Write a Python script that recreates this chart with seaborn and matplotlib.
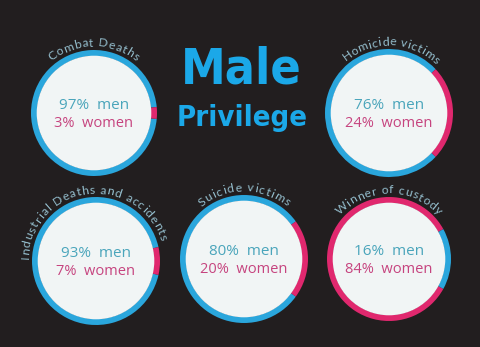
import numpy as np
import matplotlib
matplotlib.use("Agg")
import matplotlib.pyplot as plt
import seaborn as sns
from matplotlib.patches import Circle
from matplotlib.font_manager import FontProperties
from matplotlib.textpath import text_to_path

# ---- data ----
categories = ["Combat Deaths", "Homicide victims", "Industrial Deaths and accidents",
              "Suicide victims", "Winner of custody"]
men = [97, 76, 93, 80, 16]
women = [3, 24, 7, 20, 84]
title_lines = ["Male", "Privilege"]

sns.set_theme(style="dark")
plt.rcParams["font.family"] = ["Lato", "DejaVu Sans"]

BG = "#221e1f"
BLUE = "#2aa6dc"
PINK = "#e0286e"
FILL = "#f1f5f5"
MEN_TXT = "#4aa5bb"
WOMEN_TXT = "#c6447f"
LABEL_TXT = "#93bccb"
TITLE = "#1ba8e8"

palette = sns.color_palette([BLUE, PINK])

W, H = 480, 347
fig = plt.figure(figsize=(4.8, 3.47), dpi=100, facecolor=BG)
ax = fig.add_axes([0, 0, 1, 1])
ax.set_facecolor(BG)

# layout (image pixel coords, y downwards)
centers = [(94, 113), (389, 113), (96, 261), (244, 259), (389, 259)]
radii = [63, 64, 64, 64, 62]
label_center = [0, 2, -8, 0, 0]
label_span = [79, 84, 162, 79, 97]
RING = 6

label_prop = FontProperties(family=["Lato", "DejaVu Sans"], size=8.8)
inner_fam = ["Open Sans", "Lato", "DejaVu Sans"]


def char_w(c, prop):
    if c == " ":
        return prop.get_size_in_points() * 0.35
    w, h, d = text_to_path.get_text_width_height_descent(c, prop, ismath=False)
    return w + prop.get_size_in_points() * 0.12


def arc_text(s, cx, cy, rad, cdeg, span):
    widths = [char_w(c, label_prop) for c in s]
    total = sum(widths)
    start = cdeg - span / 2.0
    acc = 0.0
    for c, w in zip(s, widths):
        mid = start + span * (acc + w / 2.0) / total
        acc += w
        if c == " ":
            continue
        th = np.radians(mid)
        x = cx + rad * np.sin(th)
        y = cy + rad * np.cos(th)
        ax.text(x, y, c, rotation=-mid, rotation_mode="anchor", ha="center",
                va="baseline", color=LABEL_TXT, fontproperties=label_prop)


for i, cat in enumerate(categories):
    cx, cyi = centers[i]
    cy = H - cyi
    r = radii[i]
    m, w = men[i], women[i]
    if w <= m:
        vals, cols, minor = [m, w], [palette[0], palette[1]], w
    else:
        vals, cols, minor = [w, m], [palette[1], palette[0]], m
    ax.pie(vals, colors=cols, startangle=minor * 1.8, counterclock=True,
           center=(cx, cy), radius=r,
           wedgeprops=dict(width=RING, linewidth=0))
    ax.add_patch(Circle((cx, cy), r - RING + 0.3, facecolor=FILL, edgecolor="none", zorder=3))
    ax.text(cx, cy + 4, f"{m}%  men", ha="center", va="baseline", fontsize=11,
            color=MEN_TXT, fontweight="normal", family=inner_fam, zorder=4)
    ax.text(cx, cy - 14, f"{w}%  women", ha="center", va="baseline", fontsize=10.5,
            color=WOMEN_TXT, fontweight="normal", family=inner_fam, zorder=4)
    arc_text(cat, cx, cy, r + 3.5, label_center[i], label_span[i])

ax.text(241, H - 83, title_lines[0], ha="center", va="baseline", color=TITLE,
        fontsize=36, fontweight="bold", fontstretch="condensed",
        family=["DejaVu Sans"])
ax.text(242, H - 126, title_lines[1], ha="center", va="baseline", color=TITLE,
        fontsize=21, fontweight="bold", fontstretch="condensed",
        family=["DejaVu Sans"])

ax.set_xlim(0, W)
ax.set_ylim(0, H)
ax.set_aspect("equal")
ax.axis("off")
fig.savefig("out.png", dpi=100, facecolor=BG)
